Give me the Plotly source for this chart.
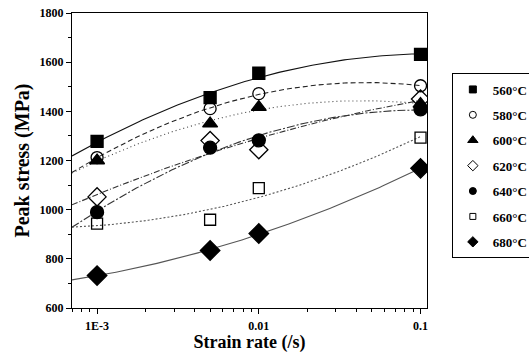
import numpy as np
import plotly.graph_objects as go

strain_rate = [0.001, 0.005, 0.01, 0.1]
temps = ["560", "580", "600", "620", "640", "660", "680"]
stress_560 = [1278, 1456, 1555, 1632]
stress_580 = [1212, 1411, 1472, 1504]
stress_600 = [1200, 1350, 1417, 1430]
stress_620 = [1052, 1281, 1244, 1450]
stress_640 = [990, 1252, 1282, 1408]
stress_660 = [943, 959, 1088, 1293]
stress_680 = [732, 834, 903, 1168]

series = [stress_560, stress_580, stress_600, stress_620, stress_640, stress_660, stress_680]
symbols = ["square", "circle-open", "triangle-up", "diamond-open", "circle", "square-open", "diamond"]
sizes = [12, 12, 13, 14, 13, 11, 15]
leg_sizes = [7, 7, 9, 8, 7, 6, 8]
dashes = ["solid", "5px,3px", "1px,3px", "6px,2px,1px,2px", "8px,2px,2px,2px", "2px,2px", "solid"]
line_colors = ["#111", "#222", "#444", "#333", "#333", "#555", "#555"]

x_lo, x_hi = -3.155, -0.96
fig = go.Figure()
lx = np.log10(strain_rate)
xs = np.linspace(x_lo, -1.0, 120)
for vals, dash, lc in zip(series, dashes, line_colors):
    c = np.polyfit(lx, vals, 2)
    fig.add_trace(go.Scatter(x=10 ** xs, y=np.polyval(c, xs), mode="lines",
                             line=dict(color=lc, width=1.1, dash=dash),
                             showlegend=False, hoverinfo="skip"))
for vals, sym, sz in zip(series, symbols, sizes):
    fig.add_trace(go.Scatter(x=strain_rate, y=vals, mode="markers",
                             marker=dict(symbol=sym, size=sz, color="black",
                                         line=dict(color="black", width=1.3)),
                             showlegend=False))
for i, (t, sym, sz) in enumerate(zip(temps, symbols, leg_sizes)):
    fig.add_trace(go.Scatter(x=[None], y=[None], mode="markers", name=t + "°C",
                             legendgroup="g" + str(i),
                             marker=dict(symbol=sym, size=sz, color="black",
                                         line=dict(color="black", width=1))))

font_serif = "Liberation Serif"
minor_x = [k * 10 ** e for e in (-4, -3, -2) for k in range(2, 10) if 10 ** x_lo <= k * 10 ** e <= 10 ** x_hi]
fig.update_layout(
    width=529, height=353,
    margin=dict(l=72, r=102, t=13, b=45, autoexpand=False),
    paper_bgcolor="white", plot_bgcolor="white",
    font=dict(family=font_serif, color="black"),
    legend=dict(x=1.07, y=0.795, xanchor="left", yanchor="top",
                bordercolor="black", borderwidth=1, bgcolor="white",
                font=dict(family=font_serif, size=13, color="black", weight="bold"),
                tracegroupgap=5.5, traceorder="grouped", itemwidth=30),
    xaxis=dict(type="log", range=[x_lo, x_hi], tickmode="array", automargin=False,
               tickvals=[0.001, 0.01, 0.1], ticktext=["1E-3", "0.01", "0.1"],
               ticks="outside", ticklen=5, tickcolor="black", showgrid=False,
               zeroline=False, showline=True, linecolor="black", linewidth=1.2, mirror=True,
               tickfont=dict(family=font_serif, size=12, weight="bold"), ticklabelstandoff=1,
               minor=dict(tickmode="array", tickvals=minor_x, ticks="outside", ticklen=3,
                          tickcolor="black", showgrid=False),
               title=dict(text="Strain rate (/s)", standoff=5,
                          font=dict(family=font_serif, size=18, weight="bold"))),
    yaxis=dict(range=[600, 1800], tickmode="linear", tick0=600, dtick=200, automargin=False,
               ticks="outside", ticklen=5, tickcolor="black", showgrid=False,
               zeroline=False, showline=True, linecolor="black", linewidth=1.2, mirror=True,
               tickfont=dict(family=font_serif, size=12, weight="bold"),
               minor=dict(dtick=100, ticks="outside", ticklen=3, tickcolor="black", showgrid=False),
               title=dict(text="Peak stress (MPa)", standoff=4,
                          font=dict(family=font_serif, size=20, weight="bold"))),
)
fig.write_html("out.html")
